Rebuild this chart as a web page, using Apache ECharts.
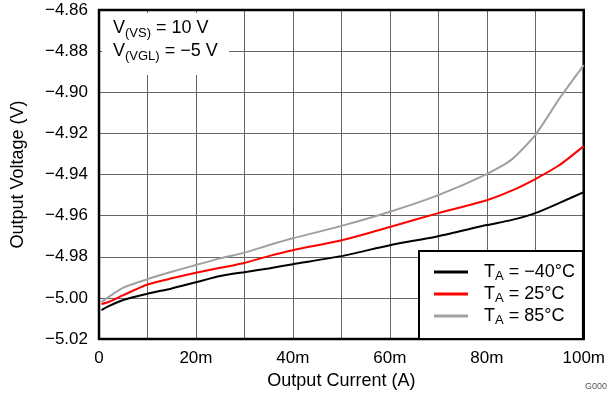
<!DOCTYPE html>
<html>
<head>
<meta charset="utf-8">
<script src="https://cdn.jsdelivr.net/npm/echarts@6/dist/echarts.min.js"></script>
<style>
  html, body { margin: 0; padding: 0; background: #fff; }
  #chart { width: 608px; height: 398px; }
</style>
</head>
<body>
<div id="chart"></div>
<script>
// output current in mA (axis labels add the "m")
const current = [0.5, 2, 5, 10, 15, 20, 25, 30, 35, 40, 50, 60, 70, 80, 85, 90, 95, 100]
const vMinus40 = [-5.006, -5.004, -5.001, -4.998, -4.9954, -4.9924, -4.9894, -4.9875, -4.9857, -4.9836,
  -4.9797, -4.9744, -4.970, -4.9646, -4.9622, -4.9588, -4.9538, -4.9486]
const v25 = [-5.003, -5.002, -4.9987, -4.9935, -4.9905, -4.9878, -4.9854, -4.983, -4.9797, -4.9768,
  -4.972, -4.9655, -4.9588, -4.9525, -4.948, -4.9422, -4.9354, -4.9262]
const v85 = [-5.002, -4.9995, -4.995, -4.9909, -4.9873, -4.984, -4.9808, -4.978, -4.9744, -4.971,
  -4.965, -4.9581, -4.950, -4.9398, -4.933, -4.9208, -4.9030, -4.8868]
const seriesNames = ['T{s|A} = \u221240°C', 'T{s|A} = 25°C', 'T{s|A} = 85°C']
const seriesColors = ['#000000', '#ff0000', '#a0a0a0']

const font = 'Liberation Sans, Arial, sans-serif'
const pairs = (ys) => current.map((x, i) => [x, ys[i]])
const minus = (s) => s.replace('-', '\u2212')

const chart = echarts.init(document.getElementById('chart'))

chart.setOption({
  animation: false,
  textStyle: { fontFamily: font },
  grid: {
    left: 99,
    right: 24,
    top: 10,
    bottom: 59,
    show: true,
    borderColor: '#000',
    borderWidth: 2.5,
    z: 3
  },
  xAxis: {
    type: 'value',
    min: 0,
    max: 100,
    interval: 10,
    name: 'Output Current (A)',
    nameLocation: 'middle',
    nameGap: 32,
    nameTextStyle: { fontSize: 18, color: '#000', fontFamily: font },
    axisLine: { show: false },
    axisTick: { show: false },
    axisLabel: {
      fontSize: 17,
      color: '#000',
      margin: 11,
      fontFamily: font,
      formatter: (v) => (v % 20 !== 0 ? '' : (v === 0 ? '0' : v + 'm'))
    },
    splitLine: { show: true, lineStyle: { color: '#666', width: 1 } }
  },
  yAxis: {
    type: 'value',
    min: -5.02,
    max: -4.86,
    interval: 0.02,
    name: 'Output Voltage (V)',
    nameLocation: 'middle',
    nameGap: 72,
    nameTextStyle: { fontSize: 18, color: '#000', fontFamily: font },
    axisLine: { show: false },
    axisTick: { show: false },
    axisLabel: {
      fontSize: 17,
      color: '#000',
      margin: 11,
      fontFamily: font,
      formatter: (v) => minus(v.toFixed(2))
    },
    splitLine: { show: true, lineStyle: { color: '#666', width: 1 } }
  },
  legend: {
    orient: 'vertical',
    left: 419,
    top: 251,
    padding: [10, 8, 12, 15],
    itemGap: 0,
    itemWidth: 34,
    itemHeight: 3,
    icon: 'rect',
    backgroundColor: '#fff',
    borderColor: '#000',
    borderWidth: 2,
    z: 10,
    data: seriesNames,
    textStyle: {
      fontSize: 18,
      color: '#000',
      fontFamily: font,
      lineHeight: 22,
      padding: [0, 0, 0, 11],
      rich: {
        s: { fontSize: 13, fontFamily: font, color: '#000', verticalAlign: 'bottom', lineHeight: 22, padding: [9, 0, 0, 0] }
      }
    }
  },
  graphic: [
    {
      type: 'rect',
      z: 8,
      shape: { x: 102, y: 13, width: 127, height: 62 },
      style: { fill: '#fff' }
    },
    {
      type: 'text',
      z: 9,
      left: 113,
      top: 17,
      style: {
        text: '{n|V}{s|(VS)}{n| = 10 V}\n{n|V}{s|(VGL)}{n| = \u22125 V}',
        font: '18px ' + font,
        fill: '#000',
        lineHeight: 23,
        rich: {
          n: { fontSize: 18, fontFamily: font, lineHeight: 23 },
          s: { fontSize: 13, fontFamily: font, lineHeight: 23, verticalAlign: 'bottom', padding: [9, 0, 0, 0] }
        }
      }
    },
    {
      type: 'text',
      right: 1,
      top: 382,
      style: { text: 'G000', font: '9px ' + font, fill: '#555' }
    }
  ],
  series: [vMinus40, v25, v85].map((ys, i) => ({
    name: seriesNames[i],
    type: 'line',
    data: pairs(ys),
    showSymbol: false,
    smooth: 0.2,
    color: seriesColors[i],
    lineStyle: { width: 2, color: seriesColors[i] },
    z: 4
  }))
})
</script>
</body>
</html>
